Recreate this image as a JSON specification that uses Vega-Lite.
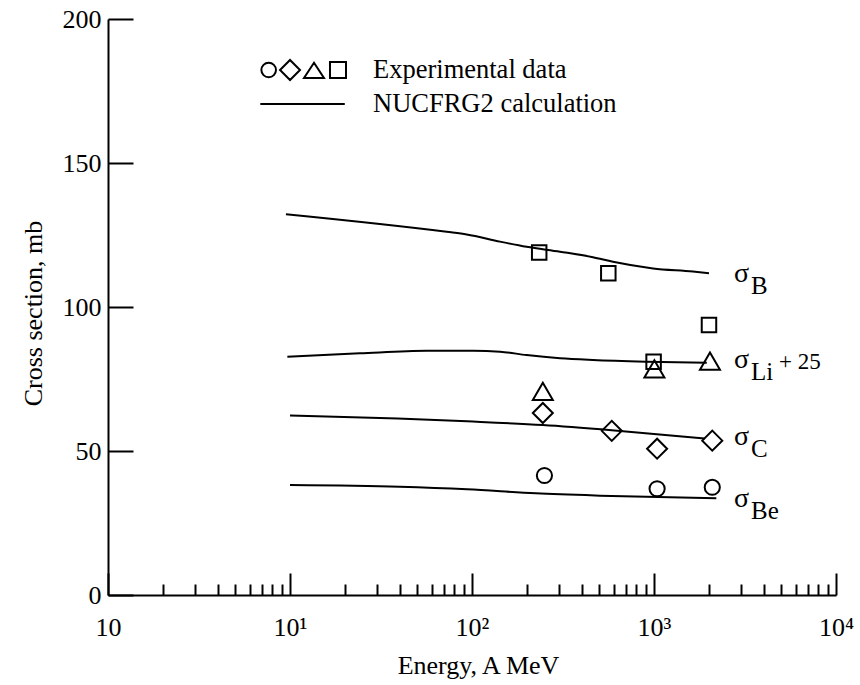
{
  "$schema": "https://vega.github.io/schema/vega-lite/v6.json",
  "width": 728,
  "height": 576,
  "autosize": {"type": "none"},
  "padding": {"left": 108, "top": 19, "right": 24, "bottom": 90},
  "background": "white",
  "config": {
    "view": {"stroke": null},
    "font": "Liberation Serif",
    "axis": {
      "labelFont": "Liberation Serif",
      "titleFont": "Liberation Serif",
      "labelColor": "black",
      "titleColor": "black",
      "titleFontWeight": "normal",
      "grid": false,
      "domainColor": "black",
      "tickColor": "black",
      "domainWidth": 2,
      "tickWidth": 2,
      "labelFontSize": 26,
      "titleFontSize": 26,
      "labelOverlap": false,
      "labelBound": false,
      "labelFlush": false
    }
  },
  "datasets": {
    "curves": [
      {"series": "B", "kind": "NUCFRG2 calculation", "E": 9.5, "v": 132.2},
      {"series": "B", "kind": "NUCFRG2 calculation", "E": 72.6, "v": 126.1},
      {"series": "B", "kind": "NUCFRG2 calculation", "E": 93.5, "v": 125.2},
      {"series": "B", "kind": "NUCFRG2 calculation", "E": 142.6, "v": 122.7},
      {"series": "B", "kind": "NUCFRG2 calculation", "E": 199.5, "v": 120.9},
      {"series": "B", "kind": "NUCFRG2 calculation", "E": 304.5, "v": 119.2},
      {"series": "B", "kind": "NUCFRG2 calculation", "E": 462, "v": 117.3},
      {"series": "B", "kind": "NUCFRG2 calculation", "E": 595, "v": 115.7},
      {"series": "B", "kind": "NUCFRG2 calculation", "E": 988, "v": 113.4},
      {"series": "B", "kind": "NUCFRG2 calculation", "E": 1637, "v": 112.3},
      {"series": "B", "kind": "NUCFRG2 calculation", "E": 2005, "v": 111.7},
      {"series": "Li", "kind": "NUCFRG2 calculation", "E": 9.67, "v": 82.7},
      {"series": "Li", "kind": "NUCFRG2 calculation", "E": 24.2, "v": 83.9},
      {"series": "Li", "kind": "NUCFRG2 calculation", "E": 56.4, "v": 84.8},
      {"series": "Li", "kind": "NUCFRG2 calculation", "E": 101.6, "v": 84.8},
      {"series": "Li", "kind": "NUCFRG2 calculation", "E": 142.6, "v": 84.5},
      {"series": "Li", "kind": "NUCFRG2 calculation", "E": 199.5, "v": 83.3},
      {"series": "Li", "kind": "NUCFRG2 calculation", "E": 304.5, "v": 82.2},
      {"series": "Li", "kind": "NUCFRG2 calculation", "E": 462, "v": 81.6},
      {"series": "Li", "kind": "NUCFRG2 calculation", "E": 912, "v": 81.0},
      {"series": "Li", "kind": "NUCFRG2 calculation", "E": 1950, "v": 80.6},
      {"series": "C", "kind": "NUCFRG2 calculation", "E": 10, "v": 62.3},
      {"series": "C", "kind": "NUCFRG2 calculation", "E": 39, "v": 61.3},
      {"series": "C", "kind": "NUCFRG2 calculation", "E": 94, "v": 60.3},
      {"series": "C", "kind": "NUCFRG2 calculation", "E": 245, "v": 59.0},
      {"series": "C", "kind": "NUCFRG2 calculation", "E": 586, "v": 57.2},
      {"series": "C", "kind": "NUCFRG2 calculation", "E": 1900, "v": 54.3},
      {"series": "Be", "kind": "NUCFRG2 calculation", "E": 10, "v": 38.2},
      {"series": "Be", "kind": "NUCFRG2 calculation", "E": 40, "v": 37.6},
      {"series": "Be", "kind": "NUCFRG2 calculation", "E": 94, "v": 36.7},
      {"series": "Be", "kind": "NUCFRG2 calculation", "E": 224, "v": 35.3},
      {"series": "Be", "kind": "NUCFRG2 calculation", "E": 505, "v": 34.5},
      {"series": "Be", "kind": "NUCFRG2 calculation", "E": 2200, "v": 33.6}
    ],
    "points": [
      {"series": "B", "kind": "Experimental data", "E": 234, "v": 118.9},
      {"series": "B", "kind": "Experimental data", "E": 561, "v": 111.7},
      {"series": "B", "kind": "Experimental data", "E": 995, "v": 81.0},
      {"series": "B", "kind": "Experimental data", "E": 2005, "v": 93.75},
      {"series": "Li", "kind": "Experimental data", "E": 245, "v": 70.7},
      {"series": "Li", "kind": "Experimental data", "E": 1005, "v": 78.5},
      {"series": "Li", "kind": "Experimental data", "E": 2030, "v": 81.2},
      {"series": "C", "kind": "Experimental data", "E": 245, "v": 63.2},
      {"series": "C", "kind": "Experimental data", "E": 586, "v": 57.0},
      {"series": "C", "kind": "Experimental data", "E": 1040, "v": 50.8},
      {"series": "C", "kind": "Experimental data", "E": 2090, "v": 53.6},
      {"series": "Be", "kind": "Experimental data", "E": 250, "v": 41.5},
      {"series": "Be", "kind": "Experimental data", "E": 1040, "v": 36.9},
      {"series": "Be", "kind": "Experimental data", "E": 2090, "v": 37.4}
    ],
    "labels": [
      {"sub": "B", "suffix": "", "E": 2750, "v": 108.7},
      {"sub": "Li", "suffix": "+ 25", "E": 2750, "v": 78.8},
      {"sub": "C", "suffix": "", "E": 2750, "v": 52.1},
      {"sub": "Be", "suffix": "", "E": 2750, "v": 30.6}
    ]
  },
  "resolve": {"axis": {"x": "independent"}},
  "layer": [
    {
      "data": {"name": "curves"},
      "mark": {"type": "line", "interpolate": "monotone", "strokeWidth": 2},
      "encoding": {
        "x": {
          "field": "E", "type": "quantitative",
          "scale": {"type": "log", "domain": [1, 10000], "nice": false},
          "axis": {
            "orient": "bottom",
            "values": [1, 10, 100, 1000, 10000],
            "labelExpr": "datum.value == 1 ? '10' : datum.value == 10 ? '10¹' : datum.value == 100 ? '10²' : datum.value == 1000 ? '10³' : '10⁴'",
            "tickSize": -22,
            "labelPadding": 62,
            "labelBaseline": "alphabetic",
            "labelAlign": "center",
            "title": "Energy, A MeV",
            "titleX": 370,
            "titleY": 78,
            "titleBaseline": "alphabetic",
            "titleAlign": "center"
          }
        },
        "y": {
          "field": "v", "type": "quantitative",
          "scale": {"domain": [0, 200], "nice": false},
          "axis": {
            "values": [0, 50, 100, 150, 200],
            "tickSize": -25,
            "labelPadding": 32,
            "labelBaseline": "middle",
            "title": "Cross section, mb",
            "titleAngle": 270,
            "titleX": -67,
            "titleY": 294,
            "titleBaseline": "alphabetic",
            "titleAlign": "center"
          }
        },
        "detail": {"field": "series"},
        "color": {
          "field": "kind", "type": "nominal",
          "scale": {"domain": ["Experimental data", "NUCFRG2 calculation"], "range": ["black", "black"]},
          "legend": {
            "orient": "none",
            "legendX": 150,
            "legendY": 34,
            "title": null,
            "padding": 0,
            "symbolSize": 7744,
            "clipHeight": 34,
            "rowPadding": 0,
            "labelOffset": 25,
            "labelFont": "Liberation Serif",
            "labelFontSize": 26.5,
            "labelColor": "black",
            "labelLimit": 400,
            "symbolStrokeWidth": 2,
            "symbolStrokeColor": "black",
            "symbolFillColor": "transparent",
            "encode": {
              "symbols": {
                "update": {
                  "shape": {"signal": "datum.value === 'Experimental data' ? 'M-0.946,0C-0.946,-0.0917 -0.8717,-0.166 -0.78,-0.166C-0.6883,-0.166 -0.614,-0.0917 -0.614,0C-0.614,0.0917 -0.6883,0.166 -0.78,0.166C-0.8717,0.166 -0.946,0.0917 -0.946,0ZM-0.522,0L-0.295,-0.227L-0.068,0L-0.295,0.227ZM0.25,-0.165L0.477,0.18L0.023,0.18ZM0.613,-0.182L0.977,-0.182L0.977,0.182L0.613,0.182Z' : 'M-0.97,0L0.95,0'"},
                  "stroke": {"value": "black"},
                  "fill": {"value": "transparent"},
                  "strokeWidth": {"value": 2},
                  "opacity": {"value": 1}
                }
              }
            }
          }
        }
      }
    },
    {
      "data": {"name": "points"},
      "transform": [{"filter": "datum.series === 'Be'"}],
      "mark": {"type": "point", "shape": "circle", "size": 230, "filled": false, "strokeWidth": 2, "opacity": 1, "color": "black"},
      "encoding": {
        "x": {
          "field": "E", "type": "quantitative",
          "axis": {
            "orient": "bottom",
            "values": [2, 3, 4, 5, 6, 7, 8, 9, 20, 30, 40, 50, 60, 70, 80, 90, 200, 300, 400, 500, 600, 700, 800, 900, 2000, 3000, 4000, 5000, 6000, 7000, 8000, 9000],
            "labels": false,
            "domain": false,
            "tickSize": -11,
            "title": null
          }
        },
        "y": {"field": "v", "type": "quantitative"}
      }
    },
    {
      "data": {"name": "points"},
      "transform": [{"filter": "datum.series === 'C'"}],
      "mark": {"type": "point", "shape": "diamond", "size": 400, "filled": false, "strokeWidth": 2, "opacity": 1, "color": "black"},
      "encoding": {
        "x": {"field": "E", "type": "quantitative", "axis": null},
        "y": {"field": "v", "type": "quantitative"}
      }
    },
    {
      "data": {"name": "points"},
      "transform": [{"filter": "datum.series === 'Li'"}],
      "mark": {"type": "point", "shape": "triangle-up", "size": 400, "filled": false, "strokeWidth": 2, "opacity": 1, "color": "black"},
      "encoding": {
        "x": {"field": "E", "type": "quantitative", "axis": null},
        "y": {"field": "v", "type": "quantitative"}
      }
    },
    {
      "data": {"name": "points"},
      "transform": [{"filter": "datum.series === 'B'"}],
      "mark": {"type": "point", "shape": "square", "size": 210, "filled": false, "strokeWidth": 2, "opacity": 1, "color": "black"},
      "encoding": {
        "x": {"field": "E", "type": "quantitative", "axis": null},
        "y": {"field": "v", "type": "quantitative"}
      }
    },
    {
      "data": {"name": "labels"},
      "mark": {"type": "text", "text": "σ", "align": "left", "baseline": "alphabetic", "fontSize": 28, "font": "Liberation Serif", "color": "black"},
      "encoding": {
        "x": {"field": "E", "type": "quantitative", "axis": null},
        "y": {"field": "v", "type": "quantitative"}
      }
    },
    {
      "data": {"name": "labels"},
      "mark": {"type": "text", "align": "left", "baseline": "alphabetic", "fontSize": 25, "font": "Liberation Serif", "color": "black", "dx": 17, "dy": 12},
      "encoding": {
        "x": {"field": "E", "type": "quantitative", "axis": null},
        "y": {"field": "v", "type": "quantitative"},
        "text": {"field": "sub"}
      }
    },
    {
      "data": {"name": "labels"},
      "mark": {"type": "text", "align": "left", "baseline": "alphabetic", "fontSize": 23, "font": "Liberation Serif", "color": "black", "dx": 45, "dy": 1},
      "encoding": {
        "x": {"field": "E", "type": "quantitative", "axis": null},
        "y": {"field": "v", "type": "quantitative"},
        "text": {"field": "suffix"}
      }
    }
  ]
}
